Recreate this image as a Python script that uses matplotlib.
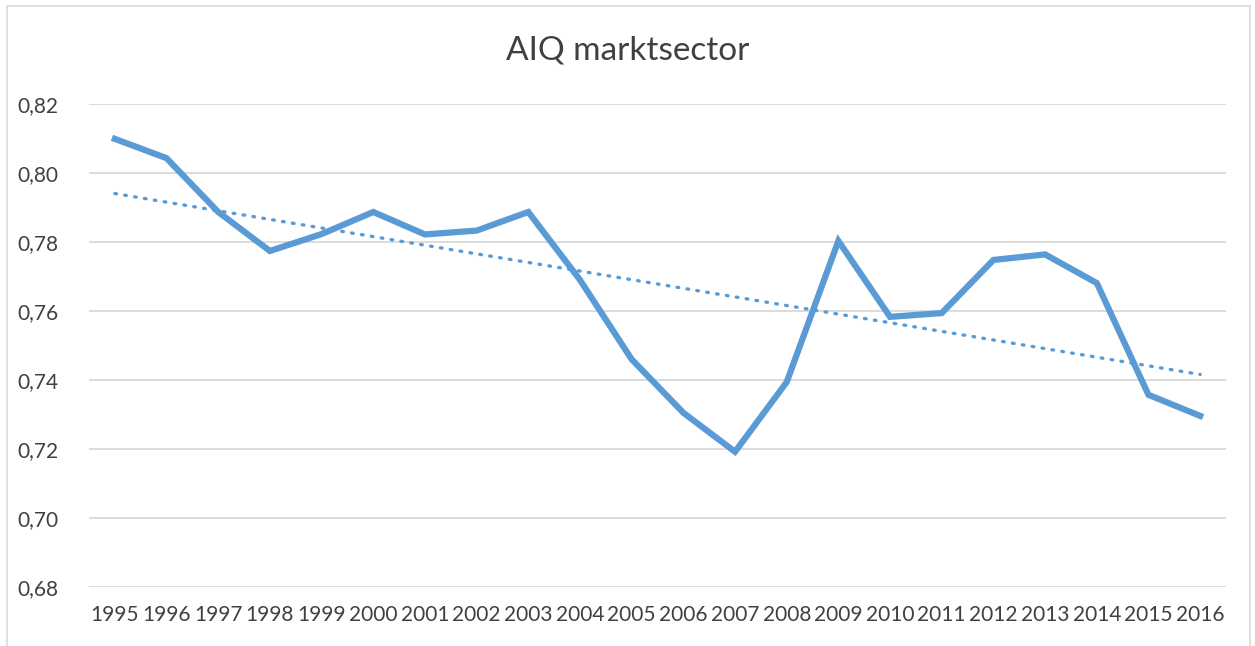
import numpy as np
import matplotlib.pyplot as plt
from matplotlib.patches import Rectangle
from matplotlib.ticker import FuncFormatter

years = list(range(1995, 2017))
aiq = [0.8099, 0.8043, 0.7887, 0.7774, 0.7823, 0.7887, 0.7822, 0.7833, 0.7887, 0.7690,
       0.7460, 0.7305, 0.7192, 0.7394, 0.7803, 0.7583, 0.7594, 0.7748, 0.7764, 0.7681,
       0.7357, 0.7296]

plt.rcParams['font.family'] = ['Lato', 'DejaVu Sans']
blue = '#5b9bd5'
txt = '#404040'

fig = plt.figure(figsize=(12.55, 6.46), dpi=100)
ax = fig.add_axes([89/1255, 1-587/646, (1226-89)/1255, (587-104)/646])

x = np.arange(len(years))
ax.plot(x, aiq, color=blue, lw=4.5, solid_joinstyle='miter', zorder=3)

# linear trendline
coef = np.polyfit(x, aiq, 1)
ax.plot(x, np.polyval(coef, x), color=blue, lw=2.4, linestyle=(0, (0.5, 2.5)),
        dash_capstyle='round', zorder=3)

ax.set_xlim(-0.5, len(years) - 0.5)
ax.set_ylim(0.68, 0.82)
ax.set_yticks(np.arange(0.68, 0.8201, 0.02))
ax.yaxis.set_major_formatter(FuncFormatter(lambda v, p: f'{v:.2f}'.replace('.', ',')))
ax.set_xticks(x)
ax.set_xticklabels([str(y) for y in years])
ax.grid(axis='y', color='#d9d9d9', lw=1.3)
ax.set_axisbelow(True)
for s in ax.spines.values():
    s.set_visible(False)
ax.tick_params(length=0, labelsize=15, colors=txt)
ax.tick_params(axis='x', pad=13)
ax.tick_params(axis='y', pad=22)

fig.text(0.5, 1-50/646, 'AIQ marktsector', ha='center', va='center', fontsize=24, color=txt)

fig.patches.append(Rectangle((7/1255, -0.01), (1250-7)/1255, 1-6/646+0.01,
                             transform=fig.transFigure, fill=False, ec='#d9d9d9', lw=1.2))

fig.savefig('out.png', dpi=100)
